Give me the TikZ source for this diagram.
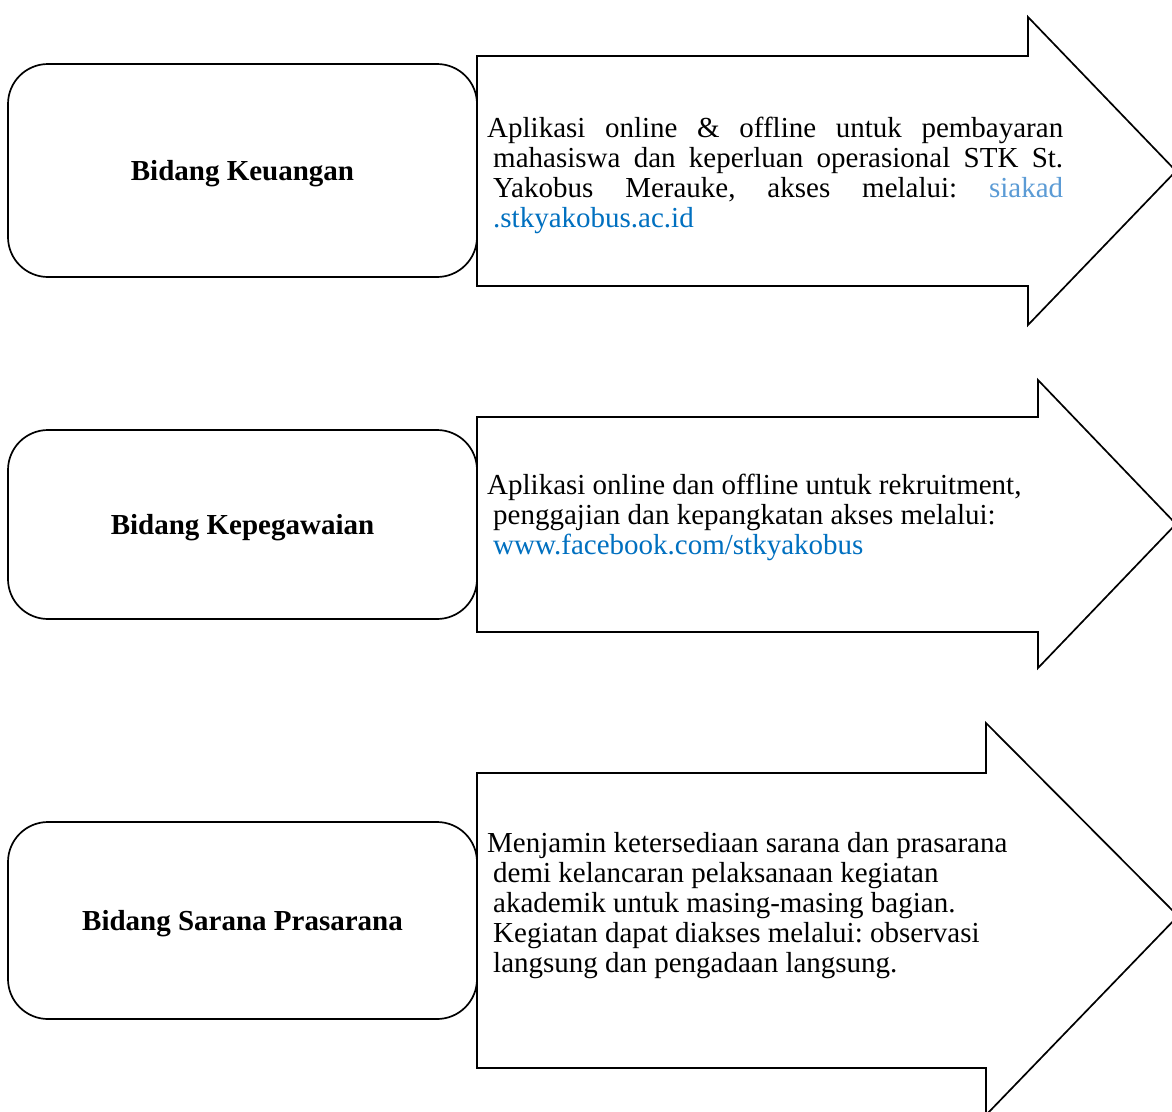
\documentclass[tikz,border=0pt]{standalone}
\usepackage{fontspec}
\setmainfont{Liberation Serif}
\frenchspacing
\definecolor{siakadblue}{HTML}{5B9BD5}
\definecolor{linkblue}{HTML}{0070C0}
\tikzset{
  arrowshape/.style={draw=black, fill=white, line width=1.7pt, line join=miter},
  bidang/.style={draw=black, line width=1.7pt, rounded corners=40pt, minimum width=469pt,
    font=\fontsize{29}{30}\selectfont\bfseries, inner sep=0pt, text depth=0pt},
  desc/.style={anchor=north west, align=left, inner sep=0pt, font=\fontsize{29}{30}\selectfont\frenchspacing}
}
\begin{document}
\begin{tikzpicture}[x=1pt,y=-1pt]
\useasboundingbox (0,0) rectangle (1172,1111);
\clip (0,0) rectangle (1172,1111);
\fill[white] (0,0) rectangle (1172,1111);
% arrows
\draw[arrowshape] (477,56) -- (1028,56) -- (1028,17) -- (1176,171) -- (1028,325) -- (1028,286) -- (477,286) -- cycle;
\draw[arrowshape] (477,417) -- (1038,417) -- (1038,380) -- (1176,524) -- (1038,668) -- (1038,632) -- (477,632) -- cycle;
\draw[arrowshape] (477,773) -- (986,773) -- (986,723) -- (1178,916) -- (986,1115) -- (986,1068) -- (477,1068) -- cycle;
% boxes
\node[bidang, minimum height=213pt] (keu) at (242.5,170.5) {Bidang Keuangan};
\node[bidang, minimum height=189pt] (peg) at (242.5,524.5) {Bidang Kepegawaian};
\node[bidang, minimum height=197pt] (sar) at (242.5,920.5) {Bidang Sarana Prasarana};
% descriptions
\node[desc] (dkeu) at (487,116) {\strut\makebox[576pt][s]{Aplikasi online \& offline untuk pembayaran}\\
\hspace*{6pt}\makebox[570pt][s]{mahasiswa dan keperluan operasional STK St.}\\
\hspace*{6pt}\makebox[570pt][s]{Yakobus Merauke, akses melalui: \textcolor{siakadblue}{siakad}}\\
\hspace*{6pt}\textcolor{linkblue}{.stkyakobus.ac.id}};
\node[desc] (dpeg) at (487,473) {\strut Aplikasi online dan offline untuk rekruitment,\\
\hspace*{6pt}penggajian dan kepangkatan akses melalui:\\
\hspace*{6pt}\textcolor{linkblue}{www.facebook.com/stkyakobus}};
\node[desc] (dsar) at (487,831) {\strut Menjamin ketersediaan sarana dan prasarana\\
\hspace*{6pt}demi kelancaran pelaksanaan kegiatan\\
\hspace*{6pt}akademik untuk masing-masing bagian.\\
\hspace*{6pt}Kegiatan dapat diakses melalui: observasi\\
\hspace*{6pt}langsung dan pengadaan langsung.};
\end{tikzpicture}
\end{document}
